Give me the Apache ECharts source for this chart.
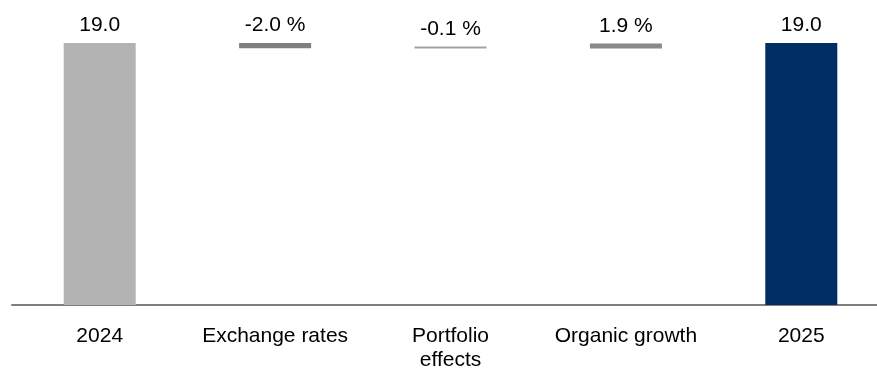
<!DOCTYPE html>
<html>
<head>
<meta charset="utf-8">
<script src="https://cdn.jsdelivr.net/npm/echarts@6/dist/echarts.min.js"></script>
<style>
  html, body { margin: 0; padding: 0; background: #fff; }
  #chart { width: 877px; height: 368px; }
</style>
</head>
<body>
<div id="chart"></div>
<script>
// Sales bridge: start value, percentage effects, end value
const categories = ['2024', 'Exchange rates', 'Portfolio\neffects', 'Organic growth', '2025'];
const startValue = 19.0;
const endValue = 19.0;
const changePct = [-2.0, -0.1, 1.9];   // effects between the two years, in %

const colors = ['#b3b3b3', '#7f7f7f', '#a3a3a3', '#8a8a8a', '#002d62'];

// Build the floating waterfall segments
const baseData = [0];
const barData = [{ value: startValue, label: startValue.toFixed(1) }];
let running = startValue;
changePct.forEach(function (p) {
  const delta = startValue * p / 100;
  const next = running + delta;
  baseData.push(Math.min(running, next));
  barData.push({ value: Math.abs(delta), label: p.toFixed(1) + ' %' });
  running = next;
});
baseData.push(0);
barData.push({ value: endValue, label: endValue.toFixed(1) });

const chart = echarts.init(document.getElementById('chart'));
chart.setOption({
  animation: false,
  grid: { left: 12, width: 877, top: 43, height: 262, outerBoundsMode: 'none', containLabel: false },
  xAxis: {
    type: 'category',
    data: categories,
    axisLine: { lineStyle: { color: '#7f7f7f', width: 2 } },
    axisTick: { show: false },
    axisLabel: {
      color: '#000',
      fontFamily: 'Liberation Sans, Arial, sans-serif',
      fontSize: 21,
      lineHeight: 24,
      margin: 19,
      interval: 0
    }
  },
  yAxis: { type: 'value', min: 0, max: 19, show: false },
  series: [
    {
      type: 'bar',
      stack: 'bridge',
      data: baseData,
      itemStyle: { color: 'transparent' },
      silent: true,
      barWidth: 72
    },
    {
      type: 'bar',
      stack: 'bridge',
      barWidth: 72,
      barMinHeight: 2,
      data: barData.map(function (d, i) {
        return { value: d.value, itemStyle: { color: colors[i] } };
      }),
      label: {
        show: true,
        position: 'top',
        distance: 7,
        color: '#000',
        fontFamily: 'Liberation Sans, Arial, sans-serif',
        fontSize: 21,
        formatter: function (p) { return barData[p.dataIndex].label; }
      }
    }
  ]
});
</script>
</body>
</html>
